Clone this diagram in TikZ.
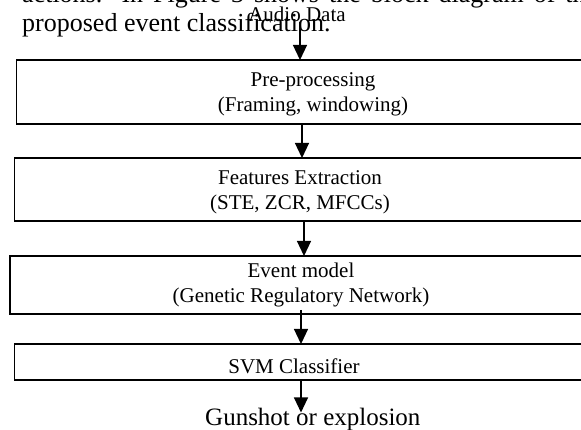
\documentclass[tikz,border=0pt]{standalone}
\usepackage{fontspec}
\setmainfont{Liberation Serif}
\usetikzlibrary{arrows.meta,calc}
\begin{document}
\begin{tikzpicture}[x=1pt,y=1pt,
  box/.style={draw, rectangle, line width=1.5pt, inner sep=0pt, outer sep=0pt, anchor=north west},
  lbl/.style={inner sep=0pt, font=\fontsize{21}{25}\selectfont, align=center},
  body/.style={inner sep=0pt, font=\fontsize{26}{28}\selectfont},
  flow/.style={line width=1.2pt, -{Triangle[width=14pt,length=15pt]}}]
\clip (0,0) rectangle (581,-430);
\fill[white] (0,0) rectangle (581,-430);

% running text of the page
\node[body, anchor=base west] (p1) at (22,-3) {\makebox[575pt][s]{actions. In Figure 3 shows the block diagram of the}};
\node[body, anchor=base west] (p2) at (22,-32) {proposed event classification.};

% processing stages (they run on past the right edge)
\node[box, minimum width=623pt, minimum height=64pt] (b1) at (16.7,-60) {};
\node[box, minimum width=626pt, minimum height=63pt] (b2) at (14.3,-158) {};
\node[box, minimum width=630pt, minimum height=58pt] (b3) at (10,-256) {};
\node[box, minimum width=626pt, minimum height=36pt] (b4) at (14.3,-344) {};

% labels (base = baseline of the last line)
\node[lbl, anchor=base] (t0) at (297,-22) {Audio Data};
\node[lbl, anchor=base] (t1) at (313,-112) {Pre-processing\\(Framing, windowing)};
\node[lbl, anchor=base] (t2) at (300,-210) {Features Extraction\\(STE, ZCR, MFCCs)};
\node[lbl, anchor=base] (t3) at (301,-303) {Event model\\(Genetic Regulatory Network)};
\node[lbl, anchor=base] (t4) at (294,-373) {SVM Classifier};
\node[inner sep=0pt, font=\fontsize{25}{28}\selectfont, anchor=base west] (t5) at (205,-425) {Gunshot or explosion};

% arrow columns
\coordinate (x1) at (300,0);
\coordinate (x2) at (302,0);
\coordinate (x3) at (304,0);
\coordinate (x4) at (301,0);
\coordinate (x5) at (301,0);

% flow
\draw[flow] (t0.south -| x1) -- (b1.north -| x1);
\draw[flow] (b1.south -| x2) -- (b2.north -| x2);
\draw[flow] (b2.south -| x3) -- (b3.north -| x3);
\draw[flow] ($(b3.south -| x4)+(0,4)$) -- (b4.north -| x4);
\draw[flow] (b4.south -| x5) -- ($(t5.north -| x5)+(0,-5)$);
\end{tikzpicture}
\end{document}
